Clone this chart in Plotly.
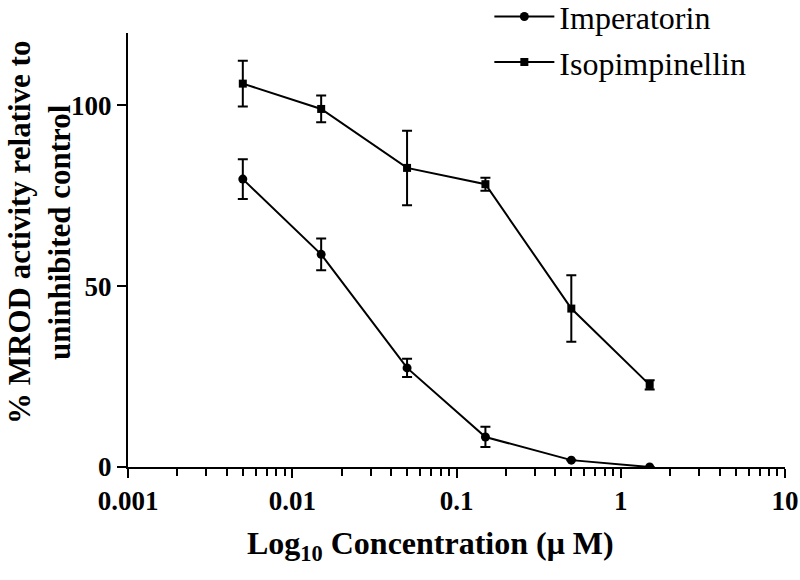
import plotly.graph_objects as go

conc = [0.005, 0.015, 0.05, 0.15, 0.5, 1.5]
imperatorin = [79.6, 58.8, 27.4, 8.3, 1.9, 0.0]
imperatorin_err = [5.5, 4.4, 2.5, 2.8, 0.0, 0.0]
isopimpinellin = [106.0, 99.0, 82.7, 78.2, 43.8, 22.7]
isopimpinellin_err = [6.3, 3.7, 10.3, 1.8, 9.2, 1.3]

font_fam = "Liberation Serif"
fig = go.Figure()
fig.add_trace(go.Scatter(
    x=conc, y=imperatorin, name="Imperatorin", mode="lines+markers",
    line=dict(color="black", width=2), marker=dict(symbol="circle", size=9, color="black"),
    error_y=dict(type="data", array=imperatorin_err, color="black", thickness=2, width=5),
    legendgroup="a"))
fig.add_trace(go.Scatter(
    x=conc, y=isopimpinellin, name="Isopimpinellin", mode="lines+markers",
    line=dict(color="black", width=2), marker=dict(symbol="square", size=8, color="black"),
    error_y=dict(type="data", array=isopimpinellin_err, color="black", thickness=2, width=5),
    legendgroup="b"))

fig.update_layout(
    width=800, height=580,
    margin=dict(l=128, r=15, t=33, b=113, autoexpand=False),
    paper_bgcolor="white", plot_bgcolor="white",
    font=dict(family=font_fam, color="black"),
    legend=dict(x=0.55, y=1.101, xanchor="left", yanchor="top",
                font=dict(size=32, family=font_fam, color="black"), tracegroupgap=1,
                itemwidth=60, bgcolor="rgba(0,0,0,0)"),
    xaxis=dict(type="log", range=[-3, 1], showgrid=False, zeroline=False,
               showline=True, linecolor="black", linewidth=2,
               ticks="outside", ticklen=9, tickwidth=2, tickcolor="black",
               tickvals=[0.001, 0.01, 0.1, 1, 10],
               ticktext=["0.001", "0.01", "0.1", "1", "10"],
               tickfont=dict(size=27, family=font_fam, weight="bold", color="black"),
               minor=dict(ticks="outside", ticklen=7, tickwidth=2, tickcolor="black",
                          tickvals=[m * 10 ** e for e in range(-3, 1) for m in range(2, 10)],
                          showgrid=False)),
    yaxis=dict(range=[0, 120], showgrid=False, zeroline=False,
               showline=True, linecolor="black", linewidth=2,
               ticks="outside", ticklen=9, tickwidth=2, tickcolor="black",
               tickvals=[0, 50, 100],
               tickfont=dict(size=27, family=font_fam, weight="bold", color="black")),
    annotations=[
        dict(text="<b>Log<sub>10</sub> Concentration (μ M)</b>",
             xref="paper", yref="paper", x=0.46, y=-0.18,
             xanchor="center", yanchor="middle", showarrow=False,
             font=dict(size=32, family=font_fam, color="black")),
        dict(text="<b>% MROD activity relative to<br>uninhibited control</b>",
             xref="paper", yref="paper", x=-0.135, y=0.54, textangle=-90,
             xanchor="center", yanchor="middle", showarrow=False,
             font=dict(size=31, family=font_fam, color="black")),
    ],
)

fig.write_html("out.html", config={"displayModeBar": False},
               post_script="document.body.style.margin='0';document.body.style.padding='0';")
